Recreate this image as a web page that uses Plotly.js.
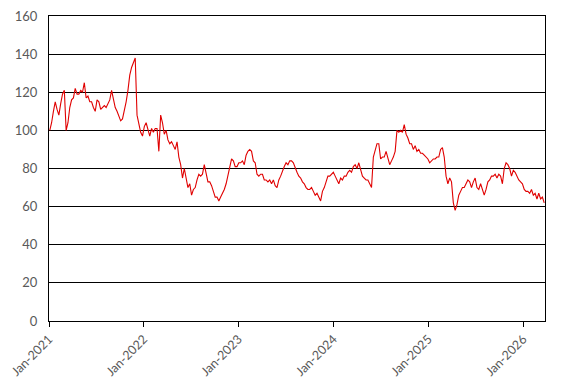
<!DOCTYPE html>
<html>
<head>
<meta charset="utf-8">
<script src="https://cdn.plot.ly/plotly-3.0.1.min.js"></script>
<style>
html,body{margin:0;padding:0;background:#fff;}
#chart{width:572px;height:385px;}
</style>
</head>
<body>
<div id="chart"></div>
<script>
// Weekly observations starting Monday 2021-01-04
const startDate = '2021-01-04';
const values2021 = [100,104,110,115,111,108,114,119,121,100,104,112,116,117,122,119,119,121,120,125,117,118,115,115,112,110,116,115,111,112,113,112,114,116,121,116,112,110,107,105,106,110,115,121,129,133,136,138,108,103,99,97,102];
const values2022 = [104,101,97,101,99,101,101,89,108,104,98,100,95,93,94,92,90,94,86,82,75,80,75,70,72,66,69,70,74,77,76,77,82,78,73,73,71,68,65,65,63,65,67,69,72,76,81,85,84,81,81,83];
const values2023 = [83,84,82,87,89,90,89,84,83,77,76,77,77,74,74,73,74,72,74,71,70,74,76,79,81,83,82,84,84,83,80,78,76,75,73,72,70,69,69,70,68,66,67,65,63,68,70,73,76,76,77,78];
const values2024 = [76,74,72,75,74,76,76,78,79,78,81,82,80,83,79,76,75,74,74,72,70,86,89,93,93,85,86,86,89,85,82,84,86,89,100,99,100,99,103,98,96,93,93,90,92,89,90,88,88,87,86,85,83];
const values2025 = [84,85,85,86,86,90,91,86,76,72,75,73,62,58,61,66,68,70,70,72,74,73,70,73,75,70,69,72,69,66,69,73,74,76,76,77,75,77,76,72,80,83,82,80,76,79,78,76,74,73,72,69,68,68,67,69,66,67,64,67,64,65,62];
const values = [].concat(values2021, values2022, values2023, values2024, values2025);

const dates = [];
const d0 = new Date(startDate + 'T00:00:00Z');
for (let i = 0; i < values.length; i++) {
  const d = new Date(d0.getTime() + i * 7 * 86400000);
  dates.push(d.toISOString().slice(0, 10));
}

const yTicks = [0,20,40,60,80,100,120,140,160];
const xTicks = ['2021-01-01','2022-01-01','2023-01-01','2024-01-01','2025-01-01','2026-01-01'];
const xTickText = ['Jan-2021','Jan-2022','Jan-2023','Jan-2024','Jan-2025','Jan-2026'];

const trace = {
  x: dates, y: values, type: 'scatter', mode: 'lines',
  line: {color: '#e00000', width: 1.1},
  hoverinfo: 'skip'
};

const font = {family: 'Lato, Carlito, "Liberation Sans", sans-serif', size: 13, color: '#595959'};
const xfont = {family: 'Lato, Carlito, "Liberation Sans", sans-serif', size: 12.5, color: '#595959'};

const layout = {
  width: 572, height: 385,
  margin: {l: 49, r: 27, t: 16, b: 64},
  paper_bgcolor: '#fff', plot_bgcolor: '#fff',
  showlegend: false,
  font: font,
  xaxis: {
    type: 'date',
    range: ['2021-01-01', '2026-03-26'],
    tickvals: xTicks, ticktext: xTickText,
    tickangle: -45,
    ticks: 'outside', ticklen: 5, tickcolor: '#000', tickwidth: 1,
    showgrid: false, zeroline: false,
    showline: true, linecolor: '#000', linewidth: 1, mirror: true,
    tickfont: xfont
  },
  yaxis: {
    range: [0, 160],
    tickvals: yTicks,
    showgrid: true, gridcolor: '#000', gridwidth: 1,
    zeroline: false,
    showline: true, linecolor: '#000', linewidth: 1, mirror: true,
    ticks: '', ticklabelstandoff: 8,
    tickfont: font
  }
};

Plotly.newPlot('chart', [trace], layout, {staticPlot: true, displayModeBar: false});
</script>
</body>
</html>
